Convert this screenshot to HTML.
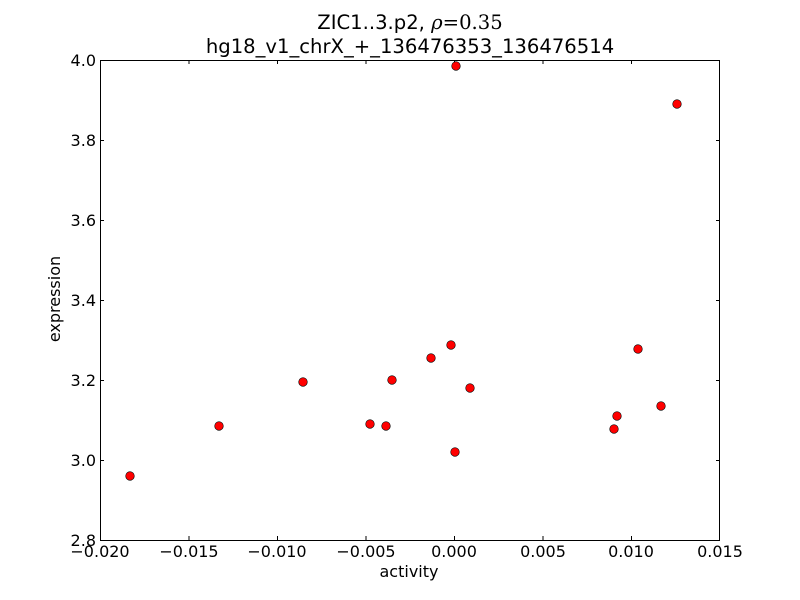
<!DOCTYPE html>
<html><head><meta charset="utf-8"><style>
html,body{margin:0;padding:0;background:#fff;}
svg{display:block;font-family:"DejaVu Sans","Liberation Sans",sans-serif;}
</style></head><body>
<svg width="800" height="600" viewBox="0 0 800 600" xmlns="http://www.w3.org/2000/svg">
<rect width="800" height="600" fill="#fff"/>
<text x="410" y="29" font-size="19.6" text-anchor="middle">ZIC1..3.p2, <tspan font-family="DejaVu Serif,serif" font-style="italic">ρ</tspan><tspan font-family="DejaVu Serif,serif">=0.35</tspan></text>
<text x="410" y="53" font-size="19.6" text-anchor="middle">hg18_v1_chrX_+_136476353_136476514</text>
<g stroke="#000" stroke-width="1">
<path d="M100.5 540v-4M100.5 60v4M189 540v-4M189 60v4M277.5 540v-4M277.5 60v4M366 540v-4M366 60v4M454.5 540v-4M454.5 60v4M543 540v-4M543 60v4M631.5 540v-4M631.5 60v4M719.5 540v-4M719.5 60v4"/>
<path d="M100 540.5h4M720 540.5h-4M100 460.5h4M720 460.5h-4M100 380.5h4M720 380.5h-4M100 300.5h4M720 300.5h-4M100 220.5h4M720 220.5h-4M100 140.5h4M720 140.5h-4M100 60.5h4M720 60.5h-4"/>
</g>
<g fill="#ff0000" stroke="#000" stroke-width="0.6">
<circle cx="130" cy="476" r="4.3"/>
<circle cx="219" cy="426" r="4.3"/>
<circle cx="303" cy="382" r="4.3"/>
<circle cx="370" cy="424" r="4.3"/>
<circle cx="386" cy="426" r="4.3"/>
<circle cx="392" cy="380" r="4.3"/>
<circle cx="431" cy="358" r="4.3"/>
<circle cx="451" cy="345" r="4.3"/>
<circle cx="456" cy="66" r="4.3"/>
<circle cx="455" cy="452" r="4.3"/>
<circle cx="470" cy="388" r="4.3"/>
<circle cx="614" cy="429" r="4.3"/>
<circle cx="617" cy="416" r="4.3"/>
<circle cx="638" cy="349" r="4.3"/>
<circle cx="661" cy="406" r="4.3"/>
<circle cx="677" cy="104" r="4.3"/>
</g>
<rect x="100.5" y="60.5" width="619" height="480" fill="none" stroke="#000" stroke-width="1"/>
<g font-size="16" text-anchor="middle">
<text x="100" y="557">−0.020</text>
<text x="189" y="557">−0.015</text>
<text x="277" y="557">−0.010</text>
<text x="366" y="557">−0.005</text>
<text x="454" y="557">0.000</text>
<text x="543" y="557">0.005</text>
<text x="631" y="557">0.010</text>
<text x="720" y="557">0.015</text>
</g>
<g font-size="16" text-anchor="end">
<text x="96" y="546">2.8</text>
<text x="96" y="466">3.0</text>
<text x="96" y="386">3.2</text>
<text x="96" y="306">3.4</text>
<text x="96" y="226">3.6</text>
<text x="96" y="146">3.8</text>
<text x="96" y="66">4.0</text>
</g>
<text x="409" y="577" font-size="16" text-anchor="middle">activity</text>
<text transform="translate(60,299) rotate(-90)" font-size="16" text-anchor="middle">expression</text>
</svg>
</body></html>
